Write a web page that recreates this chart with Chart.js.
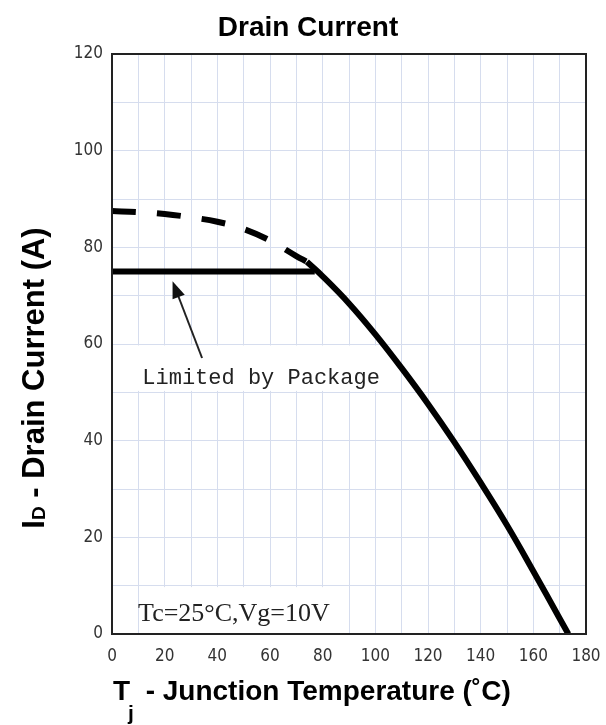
<!DOCTYPE html>
<html>
<head>
<meta charset="utf-8">
<script src="https://cdn.jsdelivr.net/npm/chart.js@4.4.1/dist/chart.umd.min.js"></script>
<style>
  html, body { margin: 0; padding: 0; background: #fff; }
  canvas { display: block; }
</style>
</head>
<body>
<canvas id="myChart" width="606" height="725"></canvas>
<script>
// silicon limit (dashed)
const tempLimit = [0, 10, 20, 30, 40, 50, 60, 70, 74];
const currentLimit = [87.5, 87.3, 86.9, 86.2, 85.3, 83.8, 81.4, 78.2, 77.0];

// derating curve (solid)
const tempCurve = [74, 80, 90, 100, 110, 120, 130, 140, 150, 160, 170, 173.3];
const currentCurve = [77.0, 74.0, 68.4, 62.0, 55.0, 47.6, 39.7, 31.3, 22.5, 13.0, 3.2, 0];

// package limit
const tempPackage = [0, 77];
const currentPackage = [75, 75];

const chartTitle = "Drain Current";
const xTitle = "T  - Junction Temperature (˚C)";
const yTitle = " - Drain Current (A)";

const gridColor = "#d6ddee";
const tickFont = { family: "'DejaVu Sans Condensed', 'DejaVu Sans'", size: 17 };
const boldFont = "'Liberation Sans', Arial, sans-serif";

function toPoints(xs, ys) {
  return xs.map((x, i) => ({ x: x, y: ys[i] }));
}

function everyOther(value) {
  return value % 20 === 0 ? value : "";
}

const notesPlugin = {
  id: "notes",
  beforeDatasetsDraw(chart) {
    const { ctx, scales: { x, y } } = chart;
    ctx.save();
    ctx.fillStyle = "#fff";
    // white boxes behind the notes
    ctx.fillRect(x.getPixelForValue(10.6), y.getPixelForValue(9.7),
      x.getPixelForValue(86) - x.getPixelForValue(10.6), y.getPixelForValue(0) - y.getPixelForValue(9.7) - 1);
    ctx.fillRect(x.getPixelForValue(9), y.getPixelForValue(59.7),
      x.getPixelForValue(102) - x.getPixelForValue(9), y.getPixelForValue(50.3) - y.getPixelForValue(59.7));

    ctx.fillStyle = "#222";
    ctx.textBaseline = "middle";
    ctx.textAlign = "left";
    ctx.font = "22px 'Liberation Mono'";
    ctx.fillText("Limited by Package", x.getPixelForValue(11.5), y.getPixelForValue(53));
    ctx.font = "26px 'Liberation Serif'";
    ctx.fillText("Tc=25°C,Vg=10V", x.getPixelForValue(9.9), y.getPixelForValue(4.0));
    ctx.restore();
  },
  afterDatasetsDraw(chart) {
    const { ctx, chartArea, scales: { x, y } } = chart;
    ctx.save();
    // arrow pointing at the package limit
    const x0 = x.getPixelForValue(34.2), y0 = y.getPixelForValue(57.1);
    const x1 = x.getPixelForValue(23.0), y1 = y.getPixelForValue(73.0);
    const ang = Math.atan2(y1 - y0, x1 - x0);
    ctx.strokeStyle = "#222";
    ctx.fillStyle = "#111";
    ctx.lineWidth = 2;
    ctx.beginPath();
    ctx.moveTo(x0, y0);
    ctx.lineTo(x1 - 10 * Math.cos(ang), y1 - 10 * Math.sin(ang));
    ctx.stroke();
    ctx.beginPath();
    ctx.moveTo(x1, y1);
    ctx.lineTo(x1 - 17 * Math.cos(ang) + 6.5 * Math.sin(ang), y1 - 17 * Math.sin(ang) - 6.5 * Math.cos(ang));
    ctx.lineTo(x1 - 17 * Math.cos(ang) - 6.5 * Math.sin(ang), y1 - 17 * Math.sin(ang) + 6.5 * Math.cos(ang));
    ctx.closePath();
    ctx.fill();

    // frame
    ctx.strokeStyle = "#222";
    ctx.lineWidth = 2;
    ctx.strokeRect(chartArea.left, chartArea.top, chartArea.right - chartArea.left, chartArea.bottom - chartArea.top);

    // chart title
    ctx.fillStyle = "#000";
    ctx.textAlign = "center";
    ctx.textBaseline = "alphabetic";
    ctx.font = "bold 28px " + boldFont;
    ctx.fillText(chartTitle, 308, 36);

    // x axis title with subscript
    ctx.textAlign = "left";
    ctx.font = "bold 28px " + boldFont;
    ctx.fillText(xTitle, chartArea.left + 1, chartArea.bottom + 66);
    ctx.font = "bold 21px " + boldFont;
    ctx.fillText("j", chartArea.left + 16, chartArea.bottom + 86);

    // y axis title with subscript
    ctx.translate(44, 378);
    ctx.rotate(-Math.PI / 2);
    ctx.font = "bold 31px " + boldFont;
    const wI = ctx.measureText("I").width;
    const wRest = ctx.measureText(yTitle).width;
    ctx.font = "bold 19px " + boldFont;
    const wD = ctx.measureText("D").width;
    let pos = -(wI + wD + wRest) / 2;
    ctx.font = "bold 31px " + boldFont;
    ctx.fillText("I", pos, 0);
    pos += wI;
    ctx.font = "bold 19px " + boldFont;
    ctx.fillText("D", pos, 1);
    pos += wD;
    ctx.font = "bold 31px " + boldFont;
    ctx.fillText(yTitle, pos, 0);
    ctx.restore();
  }
};

const config = {
  type: "line",
  data: {
    datasets: [
      {
        data: toPoints(tempLimit, currentLimit),
        borderColor: "#000",
        borderWidth: 6,
        borderDash: [24, 21],
        borderCapStyle: "butt",
        pointRadius: 0,
        tension: 0.4,
      },
      {
        data: toPoints(tempPackage, currentPackage),
        borderColor: "#000",
        borderWidth: 6,
        pointRadius: 0,
      },
      {
        data: toPoints(tempCurve, currentCurve),
        borderColor: "#000",
        borderWidth: 6,
        pointRadius: 0,
        tension: 0.4,
      },
    ],
  },
  options: {
    responsive: false,
    animation: false,
    devicePixelRatio: 1,
    layout: { padding: { left: 0, right: 20, top: 54, bottom: 0 } },
    plugins: {
      legend: { display: false },
      tooltip: { enabled: false },
      title: { display: false },
    },
    scales: {
      x: {
        type: "linear",
        min: 0,
        max: 180,
        ticks: {
          stepSize: 10,
          autoSkip: false,
          maxRotation: 0,
          callback: everyOther,
          color: "#333",
          font: tickFont,
          padding: 12,
        },
        grid: { color: gridColor, lineWidth: 1, drawTicks: false },
        border: { display: false },
        afterFit(scale) {
          scale.height = 91;
          scale.paddingLeft = 0;
          scale.paddingRight = 0;
        },
      },
      y: {
        type: "linear",
        min: 0,
        max: 120,
        ticks: {
          stepSize: 10,
          autoSkip: false,
          callback: everyOther,
          color: "#333",
          font: tickFont,
          padding: 9,
        },
        grid: { color: gridColor, lineWidth: 1, drawTicks: false },
        border: { display: false },
        afterFit(scale) {
          scale.width = 112;
          scale.paddingTop = 0;
          scale.paddingBottom = 0;
        },
      },
    },
  },
  plugins: [notesPlugin],
};

new Chart(document.getElementById("myChart"), config);
</script>
</body>
</html>
